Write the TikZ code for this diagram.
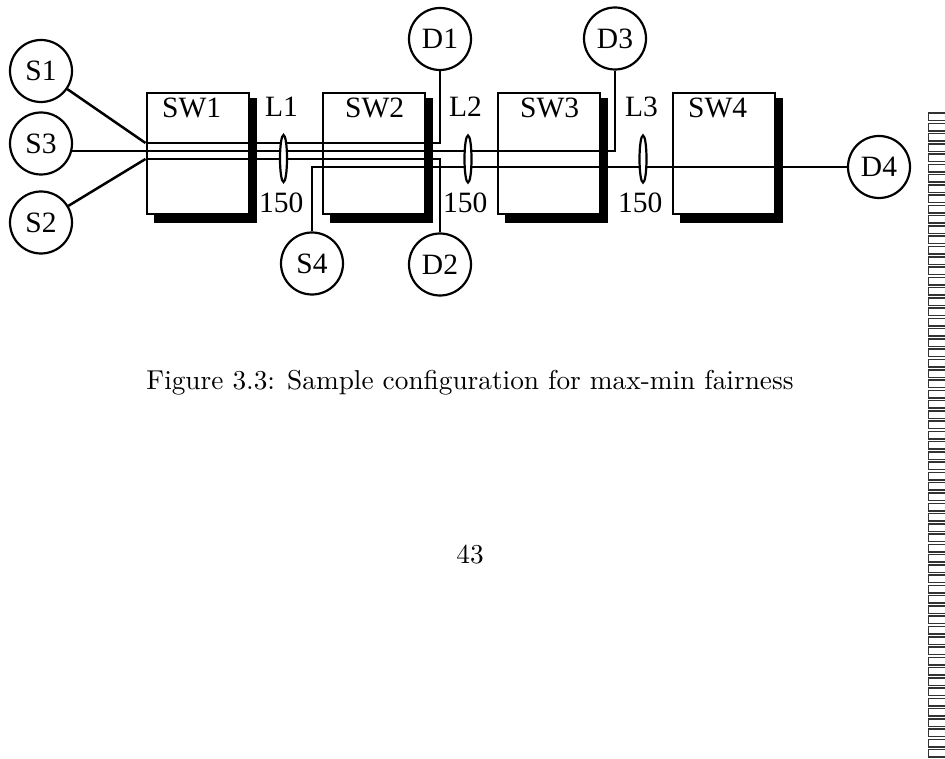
\documentclass[tikz,border=0pt]{standalone}
\usepackage{fontspec}
\newfontfamily\tms{Liberation Serif}
\usetikzlibrary{shapes.geometric}
\begin{document}
\begin{tikzpicture}[x=1pt,y=-1pt,
  lbl/.style={font=\tms\fontsize{29.5}{31}\selectfont, inner sep=0pt},
  nd/.style={circle, draw, line width=2.2pt, minimum size=62pt, inner sep=0pt,
             font=\tms\fontsize{29.5}{31}\selectfont, fill=white},
  swbox/.style={draw, line width=2pt, fill=white, minimum width=102pt,
             minimum height=121pt, inner sep=0pt, anchor=north west},
  wire/.style={line width=2.1pt},
  linkring/.style={ellipse, draw, line width=2.2pt, fill=white, minimum width=7pt,
             minimum height=47pt, inner sep=0pt},
  captext/.style={font=\fontsize{10}{12}\selectfont, scale=2.73, inner sep=0pt, anchor=base}
]
\useasboundingbox (0,0) rectangle (945,759);
\fill[white] (0,0) rectangle (945,759);

% switches
\foreach \n/\a in {SW1/145.5, SW2/322, SW3/497, SW4/672}{
  \fill (\a+8,98) rectangle (\a+111,223);
  \node[swbox] (\n) at (\a,92) {};
}
\node[lbl, anchor=base west] (t1) at (162,118) {SW1};
\node[lbl, anchor=base west] (t2) at (345,118) {SW2};
\node[lbl, anchor=base west] (t3) at (520,118) {SW3};
\node[lbl, anchor=base west] (t4) at (688,118) {SW4};

% end nodes
\node[nd] (S1) at (41,71) {S1};
\node[nd] (S3) at (41,143.5) {S3};
\node[nd] (S2) at (41,222.5) {S2};
\node[nd] (S4) at (312,263.5) {S4};
\node[nd] (D1) at (440,39) {D1};
\node[nd] (D2) at (440,264.5) {D2};
\node[nd] (D3) at (615,38.5) {D3};
\node[nd] (D4) at (879,167) {D4};

% flows
\coordinate (c1) at (145.5,143);
\coordinate (c2) at (145.5,159);
\draw[wire, line width=2.5pt] (S1) -- (c1);
\draw[wire] (c1) -- (c1 -| D1.south) -- (D1.south);
\draw[wire, line width=2.5pt] (S2) -- (c2);
\draw[wire] (c2) -- (c2 -| D2.north) -- (D2.north);
\draw[wire] (S3.-14) -- (S3.-14 -| D3.south) -- (D3.south);
\draw[wire] (S4.north) -- (S4.north |- D4.west) -- (D4.west);

% links
\node[linkring] (e1) at (283.5,158.5) {};
\node[linkring] (e2) at (468,159) {};
\node[linkring] (e3) at (643,159) {};
\node[lbl, anchor=base west] (L1) at (265,117) {L1};
\node[lbl, anchor=base west] (L2) at (449,117) {L2};
\node[lbl, anchor=base west] (L3) at (625,117) {L3};
\node[lbl, anchor=base west] (n1) at (259,213) {150};
\node[lbl, anchor=base west] (n2) at (443,213) {150};
\node[lbl, anchor=base west] (n3) at (618,213) {150};

% caption and page number
\node[captext] (caption) at (470,389) {Figure 3.3: Sample configuration for max-min fairness};
\node[captext] (page) at (470,563) {43};

% right-edge strip
\foreach \i in {0,...,62}{
  \draw[line width=1.5pt, draw=black!80] (928.5,{113+\i*10.27}) rectangle (952,{120.5+\i*10.27});
}
\end{tikzpicture}
\end{document}
